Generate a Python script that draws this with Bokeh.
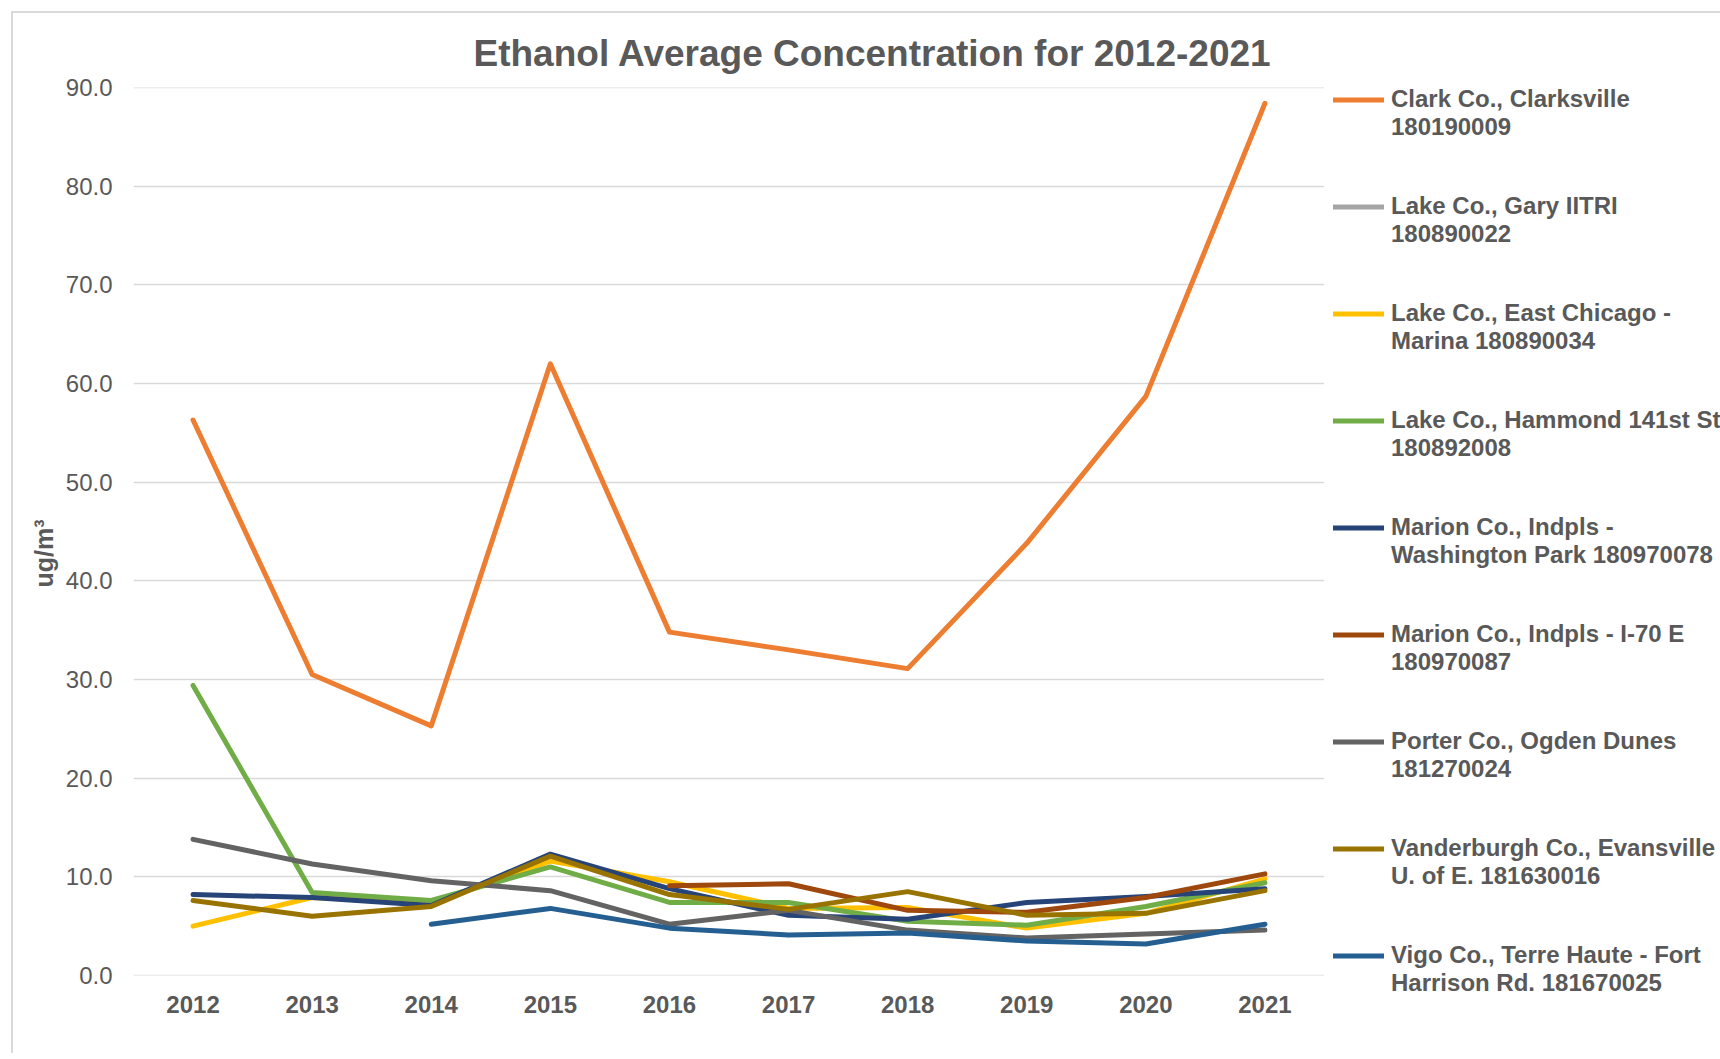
from bokeh.plotting import figure
from bokeh.layouts import row
from bokeh.models import (Range1d, FixedTicker, NumeralTickFormatter, Legend,
                          LegendItem, Title, ColumnDataSource)
from bokeh.embed import file_html
from bokeh.resources import INLINE

nan = float("nan")

years = ["2012", "2013", "2014", "2015", "2016", "2017", "2018", "2019", "2020", "2021"]
y_ticks = [0, 10, 20, 30, 40, 50, 60, 70, 80, 90]

clark = [56.3, 30.5, 25.3, 62.0, 34.8, 33.0, 31.1, 43.8, 58.7, 88.4]
gary = [nan, nan, nan, nan, nan, nan, nan, nan, nan, nan]
east_chicago = [5.0, 7.9, 7.3, 11.6, 9.5, 6.8, 6.9, 4.8, 6.3, 9.8]
hammond = [29.4, 8.4, 7.6, 11.0, 7.4, 7.4, 5.5, 5.1, 7.0, 9.4]
washington = [8.2, 7.9, 7.1, 12.3, 8.8, 6.1, 5.7, 7.4, 8.0, 8.8]
i70 = [nan, nan, nan, nan, 9.1, 9.3, 6.6, 6.4, 7.9, 10.3]
porter = [13.8, 11.3, 9.6, 8.6, 5.2, 6.6, 4.6, 3.8, 4.2, 4.6]
vanderburgh = [7.6, 6.0, 7.0, 12.1, 8.2, 6.7, 8.5, 6.1, 6.3, 8.6]
vigo = [nan, nan, 5.2, 6.8, 4.8, 4.1, 4.3, 3.5, 3.2, 5.2]

series_keys = ["clark", "gary", "east_chicago", "hammond", "washington",
               "i70", "porter", "vanderburgh", "vigo"]
series_labels = [
    "Clark Co., Clarksville\n180190009",
    "Lake Co., Gary IITRI\n180890022",
    "Lake Co., East Chicago -\nMarina 180890034",
    "Lake Co., Hammond 141st St\n180892008",
    "Marion Co., Indpls -\nWashington Park 180970078",
    "Marion Co., Indpls - I-70 E\n180970087",
    "Porter Co., Ogden Dunes\n181270024",
    "Vanderburgh Co., Evansville\nU. of E. 181630016",
    "Vigo Co., Terre Haute - Fort\nHarrison Rd. 181670025",
]
series_colors = ["#ED7D31", "#A5A5A5", "#FFC000", "#70AD47", "#264478",
                 "#9E480E", "#636363", "#997300", "#255E91"]

src = ColumnDataSource(dict(year=years, clark=clark, gary=gary,
                            east_chicago=east_chicago, hammond=hammond,
                            washington=washington, i70=i70, porter=porter,
                            vanderburgh=vanderburgh, vigo=vigo))

FONT = "Liberation Sans"
TXT = "#595959"

# ---------------- main chart ----------------
p = figure(width=1311, height=1040, x_range=years, y_range=Range1d(-0.001, 90.001),
           output_backend="svg", toolbar_location=None, title=None,
           min_border_left=120, min_border_right=0,
           min_border_top=74, min_border_bottom=78)
p.outline_line_color = None
p.background_fill_color = "white"
p.border_fill_color = "white"

for key, col in zip(series_keys, series_colors):
    p.line(x="year", y=key, source=src, line_color=col, line_width=5,
           line_cap="round", line_join="round")

p.xgrid.grid_line_color = None
p.ygrid.grid_line_color = "#D9D9D9"
p.ygrid.grid_line_width = 1.5
p.yaxis.ticker = FixedTicker(ticks=y_ticks)
p.yaxis.formatter = NumeralTickFormatter(format="0.0")
for ax in (p.xaxis[0], p.yaxis[0]):
    ax.axis_line_color = None
    ax.major_tick_line_color = None
    ax.minor_tick_line_color = None
    ax.major_tick_out = 0
    ax.major_tick_in = 0
    ax.major_label_text_font = FONT
    ax.major_label_text_color = TXT
p.yaxis.major_label_text_font_size = "24px"
p.yaxis.major_label_standoff = 21
p.xaxis.major_label_text_font_size = "24px"
p.xaxis.major_label_text_font_style = "bold"
p.xaxis.major_label_standoff = 20

ytitle = Title(text="ug/m³", align="left", offset=388, standoff=10,
               text_font=FONT, text_font_size="25px", text_font_style="bold",
               text_color=TXT)
p.add_layout(ytitle, "left")

title = Title(text="Ethanol Average Concentration for 2012-2021", align="left",
              offset=340, standoff=27, text_font=FONT, text_font_size="37px",
              text_font_style="bold", text_color=TXT)
p.add_layout(title, "above")

# ---------------- legend panel ----------------
lg = figure(width=396, height=1040, x_range=p.x_range, y_range=Range1d(1000, 1001),
            output_backend="svg", toolbar_location=None, title=None,
            x_axis_location=None, y_axis_location=None, min_border=0)
lg.grid.visible = False
lg.outline_line_color = None
lg.background_fill_color = "white"
lg.border_fill_color = "white"

legend_vy = -22
if "frame_align" in lg.properties():
    lg.frame_align = False
    p.frame_align = False
    legend_vy = 56

items = []
for key, lab, col in zip(series_keys, series_labels, series_colors):
    r = lg.line(x="year", y=key, source=src, line_color=col, line_width=5,
                line_cap="round", line_join="round")
    items.append(LegendItem(label="\n" + lab, renderers=[r]))

legend = Legend(items=items, location=(9, legend_vy), orientation="vertical",
                margin=0, padding=0, spacing=23, glyph_width=51, glyph_height=29,
                label_height=29, label_standoff=7,
                label_text_font=FONT, label_text_font_size="24px",
                label_text_font_style="bold", label_text_color=TXT,
                border_line_color=None, background_fill_alpha=0)
lg.add_layout(legend, "center")

layout = row(p, lg, spacing=0)
layout.styles = {"border-left": "2px solid #D9D9D9", "border-top": "2px solid #D9D9D9",
                 "margin-left": "11px", "margin-top": "11px"}

open("out.html", "w").write(file_html(layout, INLINE))
